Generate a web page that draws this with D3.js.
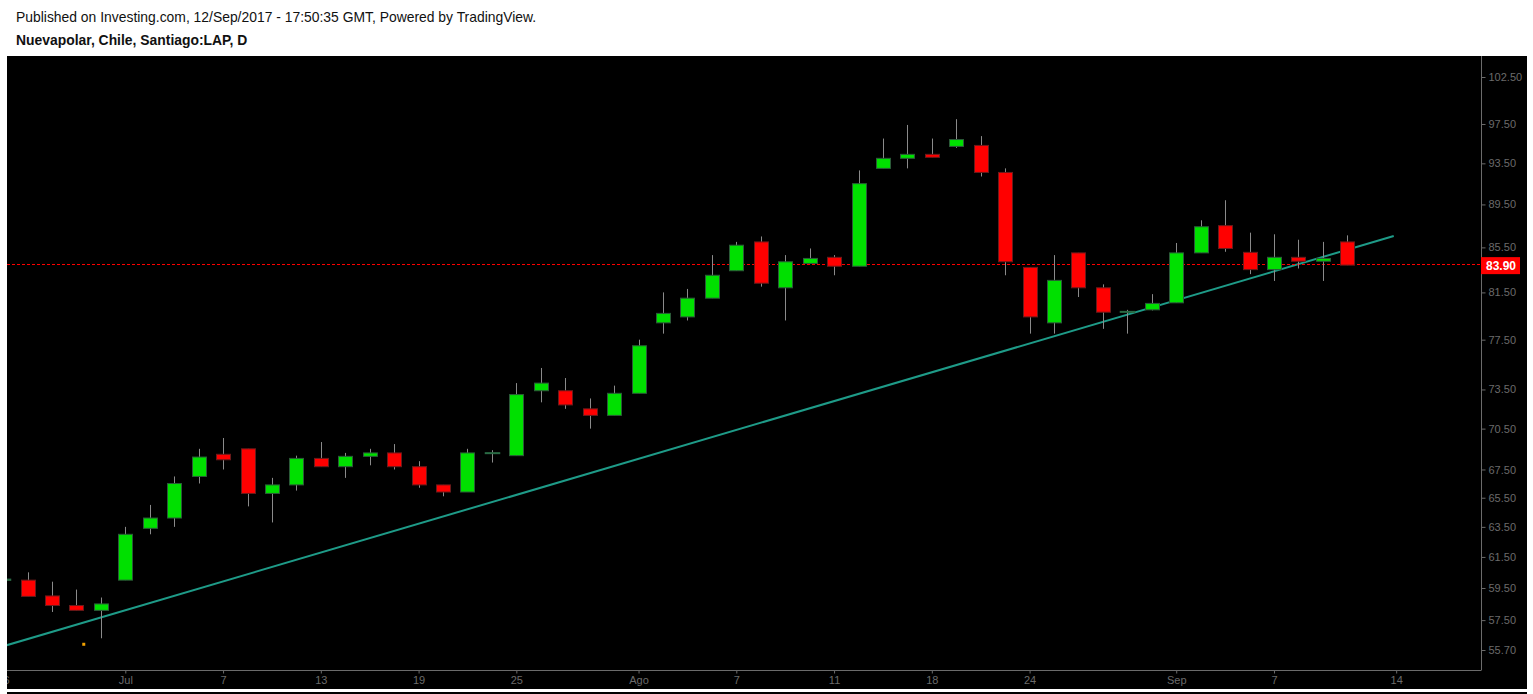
<!DOCTYPE html>
<html><head><meta charset="utf-8">
<script src="https://cdn.jsdelivr.net/npm/d3@7"></script>
<style>body{margin:0;background:#fff;}svg{display:block;}</style>
</head><body>
<svg id="c" width="1533" height="694"></svg>
<script>
// ---- data ----
const dates = ["2017-06-26","2017-06-27","2017-06-28","2017-06-29","2017-06-30",
"2017-07-03","2017-07-04","2017-07-05","2017-07-06","2017-07-07",
"2017-07-10","2017-07-11","2017-07-12","2017-07-13","2017-07-14",
"2017-07-17","2017-07-18","2017-07-19","2017-07-20","2017-07-21",
"2017-07-24","2017-07-25","2017-07-26","2017-07-27","2017-07-28",
"2017-07-31","2017-08-01","2017-08-02","2017-08-03","2017-08-04",
"2017-08-07","2017-08-08","2017-08-09","2017-08-10","2017-08-11",
"2017-08-14","2017-08-16","2017-08-17","2017-08-18",
"2017-08-21","2017-08-22","2017-08-23","2017-08-24","2017-08-25",
"2017-08-28","2017-08-29","2017-08-30","2017-08-31","2017-09-01",
"2017-09-04","2017-09-05","2017-09-06","2017-09-07","2017-09-08",
"2017-09-11","2017-09-12"];
const open  = [60.0,60.0,59.0,58.4,58.1, 60.0,63.4,64.1,67.0,68.6, 69.0,65.8,66.4,68.3,67.7, 68.45,68.7,67.7,66.4,65.9, 68.7,68.5,73.4,73.4,72.0, 71.5,73.2,78.9,79.4,81.0, 83.4,86.0,81.9,84.05,84.6, 83.8,93.0,94.0,94.4, 95.2,95.3,92.6,83.7,78.9, 85.0,81.9,79.85,80.0,80.6, 85.0,87.5,85.05,83.5,84.6, 84.25,86.0];
const high  = [60.05,60.5,59.9,59.4,58.9, 63.5,65.0,67.0,69.0,69.8, 69.0,66.9,68.5,69.5,68.7, 69.0,69.35,68.1,66.4,69.0, 68.9,74.0,75.2,74.4,72.8, 73.8,77.5,81.5,81.8,84.8, 86.0,86.5,84.8,85.4,84.8, 92.8,96.0,97.4,96.0, 98.0,96.25,93.0,83.7,84.8, 85.0,82.2,80.0,81.35,85.9, 88.0,89.9,86.85,86.7,86.2, 86.0,86.6];
const low   = [60.0,58.97,58.0,58.1,56.4, 60.0,63.0,63.5,66.5,67.5, 64.9,63.8,66.0,67.7,66.9, 67.8,67.5,66.2,65.6,65.9, 68.0,68.5,72.5,72.0,70.5, 71.5,73.2,78.0,79.1,81.0, 83.4,82.0,79.1,84.05,83.0, 83.8,93.0,93.0,94.1, 95.05,92.2,83.0,78.0,78.0, 81.1,78.4,78.0,79.95,80.6, 85.0,85.1,83.1,82.5,83.6, 82.5,83.9];
const close = [60.05,58.97,58.4,58.1,58.5, 63.0,64.1,66.5,68.4,68.2, 65.8,66.4,68.3,67.7,68.45, 68.7,67.7,66.4,65.9,68.7, 68.7,73.1,74.0,72.3,71.5, 73.2,77.0,79.7,81.0,83.0, 85.7,82.3,84.2,84.5,83.8, 91.5,94.0,94.4,94.1, 95.9,92.6,84.2,79.4,82.55, 81.9,79.8,79.85,80.55,85.0, 87.4,85.4,83.5,84.6,84.25, 84.5,83.9];
const yTickValues = [55.70,57.50,59.50,61.50,63.50,65.50,67.50,70.50,73.50,77.50,81.50,85.50,89.50,93.50,97.50,102.50];
const xTickIndex  = [0,5,9,13,17,21,26,30,34,38,42,48,52,57];
const xTickLabels = ["26","Jul","7","13","19","25","Ago","7","11","18","24","Sep","7","14"];
const trendIndex = [0, 56.9];
const trendPrice = [55.92, 86.54];
const lastPrice = 83.90;
const eventIndex = [3.3];
const eventPrice = [56.04];
const headerLine1 = "Published on Investing.com, 12/Sep/2017 - 17:50:35 GMT, Powered by TradingView.";
const headerLine2 = "Nuevapolar, Chile, Santiago:LAP, D";

// ---- layout ----
const svg = d3.select("#c");
const W = 1533, H = 694;
const plotL = 7, plotR = 1481, plotT = 56, plotB = 670;
const x = d3.scaleLinear().domain([0, 57]).range([3.1, 3.1 + 57 * 24.44]);
const y = d3.scaleLog().domain([55.7, 102.5]).range([650, 77]);
const FONT = "Liberation Sans, Arial, sans-serif";

svg.append("rect").attr("x",0).attr("y",0).attr("width",W).attr("height",H).attr("fill","#fff");
svg.append("text").attr("x",16).attr("y",22).attr("font-family",FONT)
  .attr("font-size",13.9).attr("fill","#111").text(headerLine1);
svg.append("text").attr("x",16).attr("y",45).attr("font-family",FONT)
  .attr("font-size",13.9).attr("font-weight","bold").attr("fill","#111").text(headerLine2);

svg.append("rect").attr("x",plotL).attr("y",plotT).attr("width",1527-plotL).attr("height",689-plotT).attr("fill","#000");
svg.append("rect").attr("x",plotL).attr("y",692).attr("width",1527-plotL).attr("height",2).attr("fill","#000");

svg.append("defs").append("clipPath").attr("id","clip")
  .append("rect").attr("x",plotL).attr("y",plotT).attr("width",plotR-plotL).attr("height",plotB-plotT);
const g = svg.append("g").attr("clip-path","url(#clip)");

// trendline
const tl = trendIndex.map((d,i)=>[d, trendPrice[i]]);
g.append("path").attr("d", d3.line().x(d=>x(d[0])).y(d=>y(d[1]))(tl))
  .attr("stroke","#1e9b88").attr("stroke-width",2).attr("fill","none");

// last price line
const lyc = Math.round(y(lastPrice)) - 0.5;
g.append("line").attr("x1",plotL).attr("x2",plotR).attr("y1",lyc).attr("y2",lyc)
  .attr("stroke","#ff0000").attr("stroke-width",1).attr("stroke-dasharray","3,2");

// candles
const data = dates.map((d,i)=>({i, o:open[i], h:high[i], l:low[i], c:close[i]}));
const bw = 14;
g.selectAll("line.wick").data(data).join("line").attr("class","wick")
  .attr("x1",d=>Math.round(x(d.i))+0.5).attr("x2",d=>Math.round(x(d.i))+0.5)
  .attr("y1",d=>y(d.h)).attr("y2",d=>y(d.l)).attr("stroke","#8a8a8a").attr("stroke-width",1);
g.selectAll("rect.body").data(data).join("rect").attr("class","body")
  .attr("x",d=>Math.round(x(d.i))-bw/2+0.5)
  .attr("y",d=>y(Math.max(d.o,d.c)))
  .attr("width",bw)
  .attr("height",d=>Math.max(0.5, y(Math.min(d.o,d.c))-y(Math.max(d.o,d.c))))
  .attr("fill",d=>d.c>=d.o?"#00e000":"#ff0000")
  .attr("stroke",d=>Math.abs(d.c-d.o)<0.06?"#2a6a45":(d.c>=d.o?"#2b5a38":"#6a1a1a"))
  .attr("stroke-width",d=>Math.abs(d.c-d.o)<0.06?1.5:1);

// events
g.selectAll("rect.ev").data(eventIndex.map((d,i)=>({i:d,v:eventPrice[i]}))).join("rect").attr("class","ev")
  .attr("x",d=>x(d.i)-1.5).attr("y",d=>y(d.v)-1.5).attr("width",3).attr("height",3).attr("fill","#f0a000");

// y axis
const axisColor = "#6b6b6b";
svg.append("line").attr("x1",plotR+0.5).attr("x2",plotR+0.5).attr("y1",plotT).attr("y2",plotB)
  .attr("stroke",axisColor);
const ya = svg.append("g").attr("transform",`translate(${plotR+0.5},0)`)
  .call(d3.axisRight(y).tickValues(yTickValues).tickFormat(d3.format(".2f")).tickSize(4).tickPadding(3));
ya.select(".domain").remove();
ya.selectAll("line").attr("stroke",axisColor);
ya.selectAll("text").attr("fill",axisColor).attr("font-size",11).attr("font-family",FONT);

// x axis
svg.append("line").attr("x1",plotL).attr("x2",plotR+0.5).attr("y1",plotB+0.5).attr("y2",plotB+0.5).attr("stroke",axisColor);
svg.append("clipPath").attr("id","clipx").append("rect").attr("x",plotL).attr("y",plotB).attr("width",plotR-plotL).attr("height",20);
const xa = svg.append("g").attr("clip-path","url(#clipx)").append("g").attr("transform",`translate(0,${plotB+0.5})`)
  .call(d3.axisBottom(x).tickValues(xTickIndex).tickFormat((d,i)=>xTickLabels[i]).tickSize(3).tickPadding(3));
xa.select(".domain").remove();
xa.selectAll("line").attr("stroke",axisColor);
xa.selectAll("text").attr("fill",axisColor).attr("font-size",11).attr("font-family",FONT);

// last price label
const ly = y(lastPrice);
svg.append("rect").attr("x",plotR).attr("y",ly-8).attr("width",39).attr("height",17).attr("fill","#ff0000");
svg.append("text").attr("x",plotR+20).attr("y",ly+4.5).attr("text-anchor","middle")
  .attr("font-family",FONT).attr("font-size",12).attr("font-weight","bold")
  .attr("fill","#fff").text(d3.format(".2f")(lastPrice));
</script>
</body></html>
